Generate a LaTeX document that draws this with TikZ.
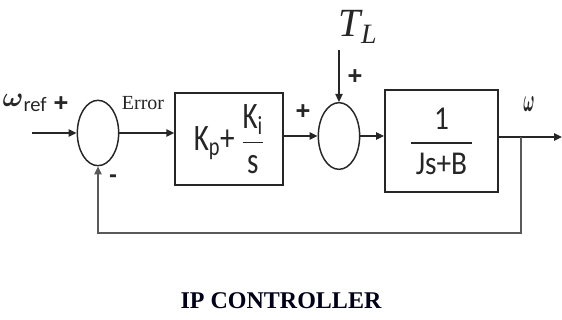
\documentclass[tikz,border=0pt]{standalone}
\usepackage{amsmath}
\usepackage{fontspec}
\setmainfont{Liberation Serif}
\newfontfamily\calib{Carlito}
\newfontfamily\arialsans{Liberation Sans}
\usetikzlibrary{arrows.meta,shapes.geometric}
\newcommand{\narrowtxt}[2]{\scalebox{#1}[1]{#2}}

\begin{document}
\begin{tikzpicture}[x=0.75pt,y=-0.75pt,>={Triangle[length=6pt,width=5.5pt]},line width=1.1pt,color=black!85]
  \useasboundingbox (0,0) rectangle (562,320);
  \node[ellipse,draw,inner sep=0pt,minimum width=31pt,minimum height=49pt] (sum1) at (98,133) {};
  \node[ellipse,draw,inner sep=0pt,minimum width=31pt,minimum height=50pt] (sum2) at (339,136) {};
  \node[rectangle,draw,inner sep=0pt,minimum width=81pt,minimum height=69pt,font=\calib\fontsize{28}{30}\selectfont] (pi) at (229,139)
    {\narrowtxt{0.78}{K\textsubscript{p}+ $\dfrac{\text{K\textsubscript{i}}}{\text{s}}$}};
  \node[rectangle,draw,inner sep=0pt,minimum width=85pt,minimum height=76.5pt,font=\calib\fontsize{25}{28}\selectfont] (plant) at (441.5,141)
    {\narrowtxt{0.88}{$\dfrac{\text{1}}{\text{\,Js+B\,}}$}};
  \coordinate (in) at (32,133);
  \coordinate (tl) at (339,50);
  \coordinate (out) at (562,137);
  \coordinate (fb) at (521,137);
  \coordinate (fbc) at (521,233);
  \node[font=\fontsize{22}{24}\selectfont] (wref) at (25,103) {$\boldsymbol{\omega}$\textsubscript{\calib ref}};
  \node[font=\arialsans\bfseries\fontsize{19}{19}\selectfont] (p1) at (61,104) {+};
  \node[font=\fontsize{15}{16}\selectfont] (err) at (143,103) {Error};
  \node[font=\arialsans\bfseries\fontsize{18}{18}\selectfont] (m1) at (113,179) {-};
  \node[font=\arialsans\bfseries\fontsize{19}{19}\selectfont] (p2) at (303,112) {+};
  \node[font=\itshape\fontsize{30}{30}\selectfont] (tlab) at (358,27) {T\textsubscript{L}};
  \node[font=\arialsans\bfseries\fontsize{19}{19}\selectfont] (p3) at (355,77) {+};
  \node[font=\fontsize{26}{26}\selectfont] (w) at (529,104) {\narrowtxt{0.45}{$\boldsymbol{\omega}$}};
  \node[font=\bfseries\fontsize{18}{20}\selectfont,color=black!90!blue] (title) at (281,301) {IP CONTROLLER};
  \draw[->] (in) -- (sum1.west);
  \draw[->] (sum1.east) -- (sum1.east -| pi.west);
  \draw[->] (pi.east |- sum2.west) -- (sum2.west);
  \draw[->] (tl) -- (sum2.north);
  \draw[->] (sum2.east) -- (sum2.east -| plant.west);
  \draw[->] (plant.east |- out) -- (out);
  \draw[->,black!65] (fb) -- (fbc) -| (sum1.south);
\end{tikzpicture}
\end{document}
